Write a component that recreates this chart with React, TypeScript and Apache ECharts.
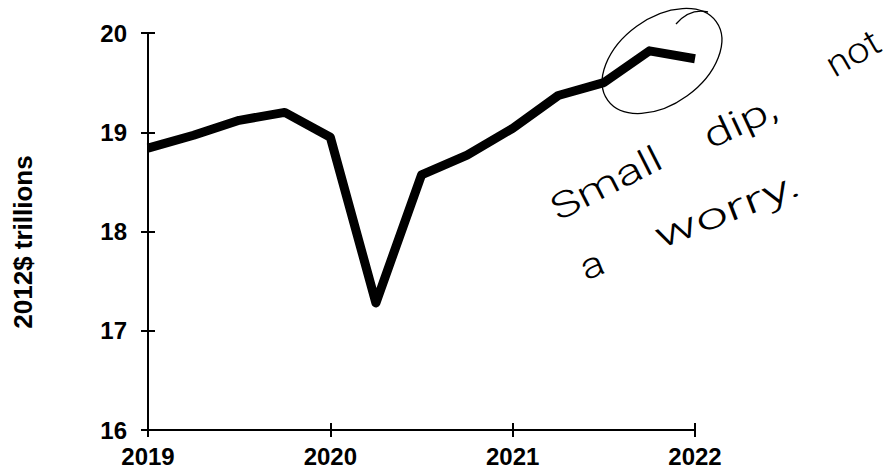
import React, { useEffect, useRef } from "react";
import * as echarts from "echarts";

const quarters: number[] = [2019, 2019.25, 2019.5, 2019.75, 2020, 2020.25, 2020.5, 2020.75, 2021, 2021.25, 2021.5, 2021.75, 2022];
const gdp: number[] = [18.84, 18.97, 19.12, 19.2, 18.95, 17.28, 18.57, 18.77, 19.04, 19.37, 19.5, 19.82, 19.74];
const yTicks: number[] = [16, 17, 18, 19, 20];
const xTicks: number[] = [2019, 2020, 2021, 2022];
const yTitle = "2012$ trillions";
const noteLine1: string[] = ["Small", "dip,", "not"];
const noteLine2: string[] = ["a", "worry."];

export default function App() {
  const ref = useRef<HTMLDivElement>(null);
  useEffect(() => {
    if (!ref.current) return;
    const chart = echarts.init(ref.current, null, { renderer: "svg" });
    const axisFont = { fontFamily: "Liberation Sans, Arial, sans-serif", fontWeight: "bold" as const, fontSize: 24, color: "#000" };
    const hand = { fontFamily: "Roboto, sans-serif", fontWeight: 300 as any, fontSize: 36, fill: "#000", align: "center" as const, verticalAlign: "middle" as const };
    const baseX = {
      type: "value" as const,
      min: xTicks[0],
      max: xTicks[xTicks.length - 1],
      interval: 1,
      position: "bottom" as const,
      splitLine: { show: false },
    };
    const baseY = {
      type: "value" as const,
      min: yTicks[0],
      max: yTicks[yTicks.length - 1],
      interval: 1,
      position: "left" as const,
      splitLine: { show: false },
    };
    const rad = (d: number) => (d * Math.PI) / 180;
    const word = (text: string, x: number, y: number, deg: number, sx: number) => ({
      type: "text",
      x,
      y,
      rotation: rad(deg),
      scaleX: sx,
      style: { ...hand, text },
    });
    chart.setOption({
      animation: false,
      backgroundColor: "#fff",
      grid: { left: 148, right: 195, top: 33, bottom: 46, containLabel: false },
      xAxis: [
        {
          ...baseX,
          axisLine: { show: true, lineStyle: { color: "#000", width: 2 } },
          axisTick: { show: true, inside: false, length: 7, lineStyle: { color: "#000", width: 2 } },
          axisLabel: { ...axisFont, margin: 14, formatter: (v: number) => String(v) },
        },
        {
          ...baseX,
          axisLine: { show: false },
          axisTick: { show: true, inside: true, length: 7, lineStyle: { color: "#000", width: 2 } },
          axisLabel: { show: false },
        },
      ],
      yAxis: [
        {
          ...baseY,
          axisLine: { show: true, lineStyle: { color: "#000", width: 2 } },
          axisTick: { show: true, inside: false, length: 7, lineStyle: { color: "#000", width: 2 } },
          axisLabel: { ...axisFont, margin: 21 },
        },
        {
          ...baseY,
          axisLine: { show: false },
          axisTick: { show: true, inside: true, length: 7, lineStyle: { color: "#000", width: 2 } },
          axisLabel: { show: false },
        },
      ],
      series: [
        {
          type: "line",
          xAxisIndex: 0,
          yAxisIndex: 0,
          data: quarters.map((q, i) => [q, gdp[i]]),
          showSymbol: false,
          symbol: "none",
          lineStyle: { color: "#000", width: 9, cap: "butt", join: "round" },
        },
      ],
      graphic: [
        {
          type: "text",
          x: 23,
          y: 242,
          rotation: rad(90),
          style: {
            text: yTitle,
            fontFamily: "Liberation Sans, Arial, sans-serif",
            fontWeight: "bold",
            fontSize: 26,
            fill: "#000",
            align: "center",
            verticalAlign: "middle",
          },
        },
        {
          type: "ellipse",
          x: 662,
          y: 61,
          rotation: rad(36),
          shape: { cx: 0, cy: 0, rx: 67, ry: 43 },
          style: { fill: "none", stroke: "#000", lineWidth: 1.3 },
        },
        {
          type: "bezierCurve",
          shape: { x1: 676, y1: 24, x2: 708, y2: 12, cpx1: 690, cpy1: 8 },
          style: { fill: "none", stroke: "#000", lineWidth: 1.3 },
        },
        word(noteLine1[0], 606, 183, 27, 1.35),
        word(noteLine1[1], 740, 122, 25, 1.4),
        word(noteLine1[2], 853, 53, 30, 1.1),
        word(noteLine2[0], 592, 265, 22, 1.2),
        word(noteLine2[1], 727, 210, 21, 1.6),
      ],
    });
    return () => chart.dispose();
  }, []);
  return <div ref={ref} style={{ width: 890, height: 476, position: "fixed", left: 0, top: 0 }} />;
}
